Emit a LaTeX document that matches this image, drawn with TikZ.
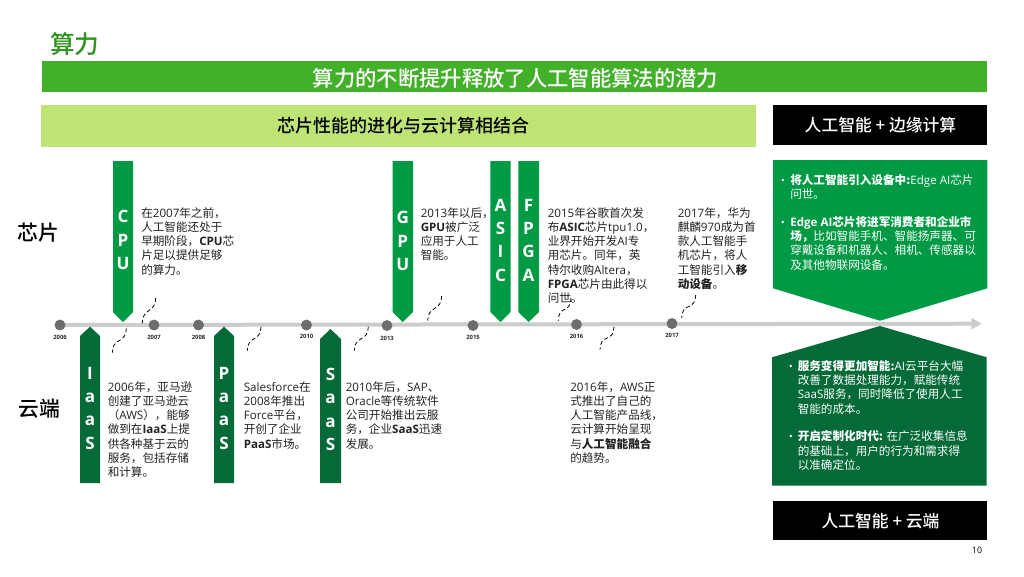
\documentclass[tikz,border=0pt]{standalone}
\usepackage{fontspec}
\setmainfont{Noto Sans CJK SC}
\newfontfamily\latfont{Open Sans}
\newfontfamily\medfont{Noto Sans CJK SC Medium}
\newcommand{\lat}[1]{{\latfont #1}}
\newcommand{\bt}[1]{{\bfseries #1}}
\definecolor{chipgreen}{HTML}{009A44}
\definecolor{clouddark}{HTML}{046A38}
\definecolor{bandgreen}{HTML}{43B02A}
\definecolor{titlegreen}{HTML}{2E931F}
\definecolor{lightband}{HTML}{BDE474}
\definecolor{axisgrey}{HTML}{CCCCCC}
\definecolor{dotgrey}{HTML}{6D6D6D}
\definecolor{bodytext}{HTML}{222222}
\usetikzlibrary{calc,arrows.meta}
\tikzset{
  x=0.75pt,y=-0.75pt,
  body/.style={align=left,anchor=north west,inner sep=0pt,font=\fontsize{8.7}{10.7}\selectfont,text=bodytext},
  wht/.style={body,text=white,font=\fontsize{8.7}{10.7}\selectfont},
  stack/.style={align=center,inner sep=0pt,text=white,font=\fontsize{12.8}{17.5}\selectfont\latfont\bfseries},
  dot/.style={circle,fill=dotgrey,minimum size=8.2pt,inner sep=0pt},
  yr/.style={inner sep=0pt,font=\fontsize{4.4}{5}\selectfont\latfont\bfseries,text=black!85},
  side/.style={inner sep=0pt,font=\fontsize{15.6}{18}\selectfont\medfont,text=black},
  link/.style={draw=black,densely dashed,line width=0.6pt},
  blk/.style={inner sep=0pt,text=white,font=\fontsize{12.6}{15}\selectfont\medfont}
}
\newcommand{\downtag}[4]{% xl,xr,yshoulder,ytip
  \fill[chipgreen] (#1,161) -- (#2,161) -- (#2,#3) -- ({(#1+#2)/2},#4) -- (#1,#3) -- cycle;}
\newcommand{\uptag}[4]{%
  \fill[clouddark] (#1,483) -- (#2,483) -- (#2,#3) -- ({(#1+#2)/2},#4) -- (#1,#3) -- cycle;}
\newcommand{\slink}[3]{%
  \coordinate (#1s) at (#2); \coordinate (#1e) at (#3);
  \draw[link] (#1s) .. controls ($(#1s)+(0,7)$) and ($(#1s)+(-3,10)$) .. ($(#1s)!0.5!(#1e)$) .. controls ($(#1e)+(3,-10)$) and ($(#1e)+(0,-7)$) .. (#1e);}
\begin{document}
\begin{tikzpicture}
\useasboundingbox (0,0) rectangle (1024,576);
\fill[white] (0,0) rectangle (1024,576);
% header
\node[inner sep=0pt,anchor=west,text=titlegreen,font=\fontsize{18.5}{22}\selectfont\medfont] (title) at (50,44) {算力};
\fill[bandgreen] (42,61) rectangle (987,91.7);
\node[inner sep=0pt,text=white,font=\fontsize{16}{18}\selectfont\medfont] (banner) at (515.5,78) {算力的不断提升释放了人工智能算法的潜力};
\fill[lightband] (41,105.3) rectangle (756,146.7);
\node[inner sep=0pt,text=black,font=\fontsize{13.5}{15}\selectfont\medfont] (sub) at (403.5,125.5) {芯片性能的进化与云计算相结合};
\fill[black] (773,105) rectangle (987,144.5);
\node[blk] (edge) at (880.5,125.5) {人工智能 + 边缘计算};
% axis
\coordinate (axs) at (60,325);
\coordinate (axe) at (982,323.7);
\draw[axisgrey,line width=3pt,-{Triangle[length=8pt,width=8pt]}] (axs) -- (axe);
% right panels
\fill[chipgreen] (773,160) -- (987.3,160) -- (987.3,288.3) -- (880,320.7) -- (773,288.3) -- cycle;
\fill[clouddark] (772,485.7) -- (986.7,485.7) -- (986.7,357.3) -- (880,326) -- (772,357.3) -- cycle;
\fill[black] (773,500.7) rectangle (987,540);
\node[blk] (cloud) at (880.5,521) {人工智能 + 云端};
% dots and years
\foreach \n/\x/\y/\ly/\t in {a/60/325/337/2006,b/154/325/337/2007,c/198.5/325/337/2008,d/306.5/325/336/2010,e/387/325.5/338/2013,f/473/325.5/337/2015,g/576.5/324.5/336/2016,h/672/323.5/335/2017}{
  \node[dot] (dot\n) at (\x,\y) {};
  \node[yr] (yr\n) at (\x,\ly) {\t};
}
% side labels
\node[side] (chip) at (38.5,233) {芯片};
\node[side] (yun) at (39,409) {云端};
% chip tags
\downtag{113}{133}{312}{322}
\node[stack] (cpu) at (123,240) {C\\P\\U};
\downtag{392.5}{413}{312}{322}
\node[stack] (gpu) at (402.7,241) {G\\P\\U};
\downtag{490.3}{510.7}{312}{322}
\node[stack] (asic) at (500.5,240) {A\\S\\I\\C};
\downtag{518.3}{539}{312}{322}
\node[stack] (fpga) at (528.6,240) {F\\P\\G\\A};
% cloud tags
\uptag{80}{100}{336}{326.7}
\node[stack] (iaas) at (90,408) {I\\a\\a\\S};
\uptag{214}{234}{336}{326.7}
\node[stack] (paas) at (224,408) {P\\a\\a\\S};
\uptag{320}{341}{339}{329}
\node[stack] (saas) at (330.5,409.5) {S\\a\\a\\S};
% body texts
\node[body] (t1) at (141,207) {在\lat{2007}年之前，\\人工智能还处于\\早期阶段，\lat{\bt{CPU}}芯\\片足以提供足够\\的算力。};
\node[body] (t2) at (420.5,207) {\lat{2013}年以后，\\\lat{\bt{GPU}}被广泛\\应用于人工\\智能。};
\node[body] (t3) at (547.5,207) {\lat{2015}年谷歌首次发\\布\lat{\bt{ASIC}}芯片\lat{tpu1.0}，\\业界开始开发\lat{AI}专\\用芯片。同年，英\\特尔收购\lat{Altera}，\\\lat{\bt{FPGA}}芯片由此得以\\问世。};
\node[body] (t4) at (677.5,207) {\lat{2017}年，华为\\麒麟\lat{970}成为首\\款人工智能手\\机芯片，将人\\工智能引入\bt{移}\\\bt{动设备}。};
\node[body] (t5) at (107.5,381) {\lat{2006}年，亚马逊\\创建了亚马逊云\\（\lat{AWS}），能够\\做到在\lat{\bt{IaaS}}上提\\供各种基于云的\\服务，包括存储\\和计算。};
\node[body] (t6) at (243.5,381) {\lat{Salesforce}在\\\lat{2008}年推出\\\lat{Force}平台，\\开创了企业\\\lat{\bt{PaaS}}市场。};
\node[body] (t7) at (345.5,381) {\lat{2010}年后，\lat{SAP}、\\\lat{Oracle}等传统软件\\公司开始推出云服\\务，企业\lat{\bt{SaaS}}迅速\\发展。};
\node[body] (t8) at (570,381) {\lat{2016}年，\lat{AWS}正\\式推出了自己的\\人工智能产品线，\\云计算开始呈现\\与\bt{人工智能融合}\\的趋势。};
% panel texts
\node[wht] (p1) at (790,174) {\bt{将人工智能引入设备中:}\lat{Edge AI}芯片\\问世。};
\node[wht] (p2) at (790,216) {\lat{\bt{Edge AI}}\bt{芯片将进军消费者和企业市}\\\bt{场，}比如智能手机、智能扬声器、可\\穿戴设备和机器人、相机、传感器以\\及其他物联网设备。};
\node[wht] (p3) at (797.5,360) {\bt{服务变得更加智能:}\lat{AI}云平台大幅\\改善了数据处理能力，赋能传统\\\lat{SaaS}服务，同时降低了使用人工\\智能的成本。};
\node[wht] (p4) at (797.5,430.5) {\bt{开启定制化时代:} 在广泛收集信息\\的基础上，用户的行为和需求得\\以准确定位。};
\foreach \n/\x/\y in {ba/782.7/180,bb/782.7/222,bc/790.7/366,bd/790.7/436}{
  \fill[white] (\x,\y) circle (1.4);
}
% connectors
\slink{k1}{155.7,298}{142.3,323}
\slink{k2}{126.3,328.3}{112.3,352.7}
\slink{k3}{261,326.7}{247.3,350.7}
\slink{k4}{368.3,326.7}{354.3,350.7}
\slink{k5}{441.7,296}{427.7,320.7}
\slink{k6}{571,298}{558.3,320.7}
\slink{k7}{695.7,295}{681.7,318}
\slink{k8}{614,326.7}{600,349.5}
% page number
\node[inner sep=0pt,font=\fontsize{6.6}{8}\selectfont\latfont,text=black] (pg) at (977,550) {10};
\end{tikzpicture}
\end{document}
